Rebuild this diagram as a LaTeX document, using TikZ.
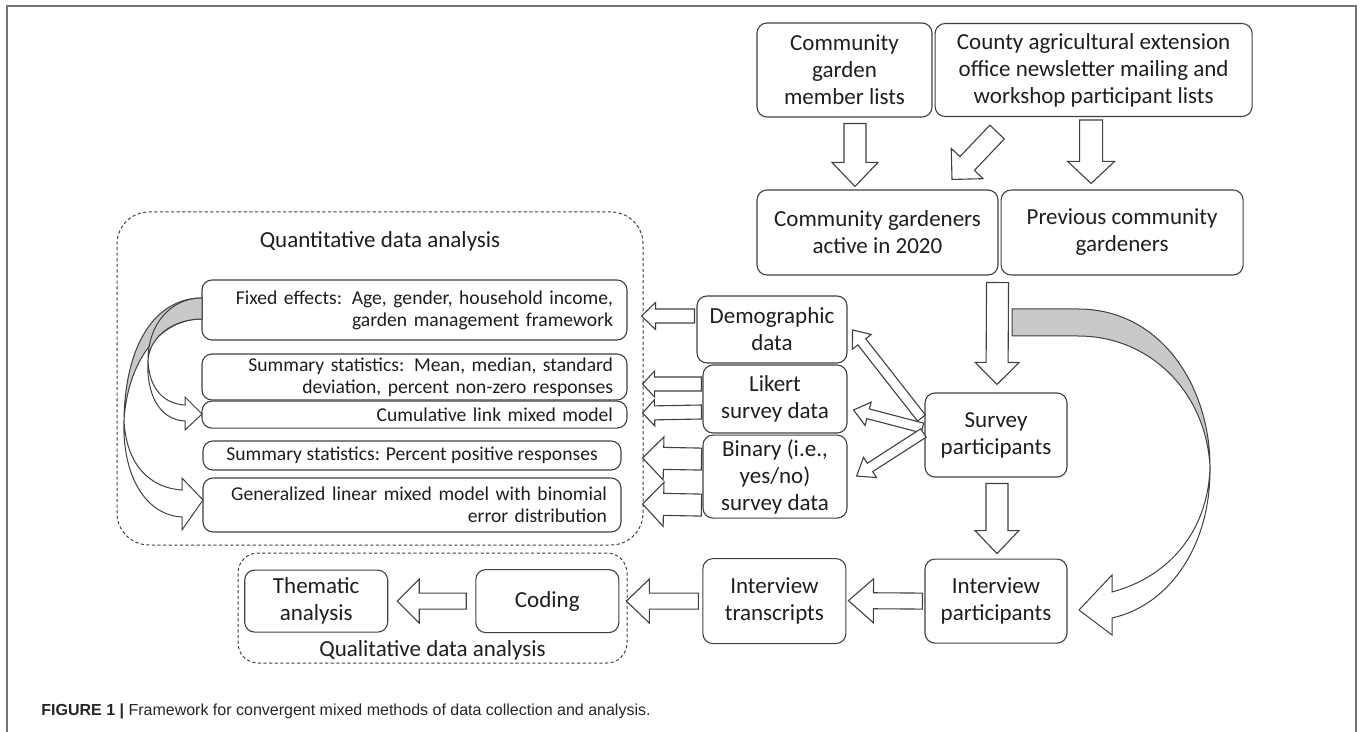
\documentclass[tikz,border=0pt]{standalone}
\usepackage{fontspec}
\setmainfont{Carlito}
\newfontfamily\capsans{Liberation Sans}
\usetikzlibrary{positioning,calc}

\definecolor{ink}{HTML}{1E1E1E}
\definecolor{edge}{HTML}{404040}
\definecolor{band}{HTML}{C9C9C9}
\definecolor{framegray}{HTML}{747474}

\tikzset{
  wh/.style 2 args={minimum width=#1*0.5pt, minimum height=#2*0.5pt},
  box/.style={draw=edge, line width=0.55pt, rounded corners=5pt, align=center, inner sep=1pt},
  qbox/.style={box, align=right, inner xsep=7pt, font=\fontsize{9.8}{11}\selectfont},
  group/.style={draw=edge, line width=0.5pt, dash pattern=on 1.6pt off 1.2pt},
  blockarrow/.style={draw=edge, line width=0.55pt, fill=white, line join=miter},
  backband/.style={draw=edge, line width=0.5pt, fill=band},
  frontband/.style={draw=edge, line width=0.5pt, fill=white},
}

% hollow block arrow: tail, tip, shaft half width, head half width, head length
\newcommand{\fatarrow}[6][]{%
  \coordinate (fa-tail) at #2;
  \coordinate (fa-tip) at #3;
  \coordinate (fa-base) at ($(fa-tip)!#6*0.5pt!(fa-tail)$);
  \draw[blockarrow,#1] ($(fa-tail)!#4*0.5pt!90:(fa-tip)$)
    -- ($(fa-base)!#4*0.5pt!90:(fa-tip)$) -- ($(fa-base)!#5*0.5pt!90:(fa-tip)$)
    -- (fa-tip)
    -- ($(fa-base)!#5*0.5pt!-90:(fa-tip)$) -- ($(fa-base)!#4*0.5pt!-90:(fa-tip)$)
    -- ($(fa-tail)!#4*0.5pt!-90:(fa-tip)$) -- cycle;
}

\begin{document}
\begin{tikzpicture}[x=0.5pt, y=-0.5pt, text=ink, font=\fontsize{11.5}{13.5}\selectfont]
\useasboundingbox (0,0) rectangle (1360,732);
\draw[framegray, line width=1pt] (7,732) -- (7,6) -- (1356,6) -- (1356,732);

% recruitment
\node[box, wh={175}{94}] (members) at (844.5,70) {Community\\garden\\member lists};
\node[box, wh={317}{93}, right=1pt of members] (county) {County agricultural extension\\office newsletter mailing and\\workshop participant lists};
\node[box, wh={241}{85}] (active) at (877.5,232.5) {Community gardeners\\active in 2020};
\node[box, wh={242}{85}, right=1pt of active] (previous) {Previous community\\gardeners};
\node[box, wh={142}{84}] (survey) at (996,435) {Survey\\participants};
\node[box, wh={142}{84}, below=40.5pt of survey] (intpart) {Interview\\participants};

% data
\node[box, wh={150}{67}] (demo) at (772,329.5) {Demographic\\data};
\node[box, wh={144}{68}] (likert) at (775,399) {Likert\\survey data};
\node[box, wh={144}{83}, below=0.5pt of likert] (binary) {Binary (i.e.,\\yes/no)\\survey data};
\node[box, wh={143}{85}, left=39pt of intpart] (transcripts) {Interview\\transcripts};

% quantitative analysis
\node[group, rounded corners=16pt, wh={526}{333}] (quant) at (380,378.5) {};
\node (quantlabel) at (380,241) {Quantitative data analysis};
\node[qbox, text width=198.5pt, minimum height=30pt] (fixed) at (414.5,310) {Fixed effects: Age, gender, household income,\\garden management framework};
\node[qbox, text width=198.5pt, minimum height=23pt] (sumstat) at (414.5,377) {Summary statistics: Mean, median, standard\\deviation, percent non-zero responses};
\node[qbox, text width=198.5pt, minimum height=13.5pt, below=0pt of sumstat] (cumul) {Cumulative link mixed model};
\node[box, font=\fontsize{9.8}{11}\selectfont, wh={418}{29}] (percent) at (412,455.5) {Summary statistics: Percent positive responses};
\node[qbox, text width=195pt, minimum height=27pt] (general) at (412,505) {Generalized linear mixed model with binomial\\error distribution};

% qualitative analysis
\node[group, rounded corners=10pt, wh={389}{110}] (qual) at (432.5,608) {};
\node (quallabel) at (432.5,650) {Qualitative data analysis};
\node[box, wh={143}{63}, left=41.5pt of transcripts] (coding) {Coding};
\node[box, wh={143}{62}, left=43.5pt of coding] (thematic) {Thematic\\analysis};

% block arrows
\fatarrow{($(members.south)+(10.5,6)$)}{($(active.north)+(-22.5,-3)$)}{11}{23}{24}
\fatarrow{($(county.south)+(-96.5,15)$)}{($(active.north)+(74.5,-10)$)}{10}{22}{22}
\fatarrow{($(county.south)+(-2.5,3)$)}{($(previous.north)+(-31,-6)$)}{11.5}{23.5}{22}
\fatarrow{($(active.south east)+(-1,7)$)}{($(survey.north)+(1,-8)$)}{11}{22}{22}
\fatarrow{($(survey.south)+(1,6)$)}{($(intpart.north)+(1,-5)$)}{11}{22}{23}
\fatarrow{($(intpart.west)+(-2,0)$)}{($(transcripts.east)+(2,-0.5)$)}{8}{22}{25}
\fatarrow{($(transcripts.west)+(-4,0)$)}{($(coding.east)+(7,0)$)}{8}{22}{23}
\fatarrow{($(coding.west)+(-9,0)$)}{($(thematic.east)+(9,0)$)}{8}{22}{22}

\fatarrow{($(demo.west)+(-2,-13.5)$)}{($(fixed.east)+(14,6)$)}{7}{13.5}{14}
\fatarrow{($(likert.west)+(-1,-15)$)}{($(sumstat.east)+(15,7)$)}{7}{13}{12}
\fatarrow{($(likert.west)+(-1,13)$)}{($(cumul.east)+(15,-1.5)$)}{7}{13}{12}
\fatarrow{($(binary.west)+(-1,-17.5)$)}{($(percent.east)+(21,2.5)$)}{11}{21.5}{21}
\fatarrow{($(binary.west)+(-1,28.5)$)}{($(general.east)+(21,-1)$)}{11}{22}{21}

\fatarrow{($(survey.west)+(-3,-17)$)}{($(demo.east)+(5,0.5)$)}{5}{12}{15}
\fatarrow{($(survey.west)+(-2,-7)$)}{($(likert.east)+(6,11)$)}{5}{12}{15}
\fatarrow{($(survey.west)+(-1,-2)$)}{($(binary.east)+(9,-0.5)$)}{5}{12}{16}

% curved arrow, survey to interview
\draw[backband] (1012,309) -- (1078,309) .. controls (1160,309) and (1210,385) .. (1210,467)
  .. controls (1206,392) and (1150,336) .. (1078,336) -- (1012,336) -- cycle;
\draw[frontband] (1210,467) .. controls (1211,545) and (1170,605) .. (1112,618) -- (1112,635)
  -- (1079,610) -- (1112,575) -- (1112,592) .. controls (1165,578) and (1208,535) .. (1210,467);

% curved arrows, fixed effects into the models
\draw[backband] (202,298) .. controls (155,298) and (125,345) .. (124,420)
  .. controls (128,360) and (160,319) .. (202,319) -- cycle;
\draw[frontband] (124,420) .. controls (126,465) and (150,488) .. (182,490) -- (182,478)
  -- (203,500) -- (182,530) -- (182,517) .. controls (145,515) and (122,475) .. (124,420);
\draw[backband] (202,298) .. controls (170,298) and (148,325) .. (148,360)
  .. controls (150,335) and (175,319) .. (202,319) -- cycle;
\draw[frontband] (148,360) .. controls (149,390) and (165,404) .. (185,405) -- (185,397)
  -- (202,414) -- (185,430) -- (185,421) .. controls (160,420) and (146,395) .. (148,360);

\node[anchor=west, inner sep=0pt, text=black!85, font=\capsans\fontsize{8}{9}\selectfont] (caption) at (41,711) {\textbf{FIGURE 1 |}\ Framework for convergent mixed methods of data collection and analysis.};
\end{tikzpicture}
\end{document}
